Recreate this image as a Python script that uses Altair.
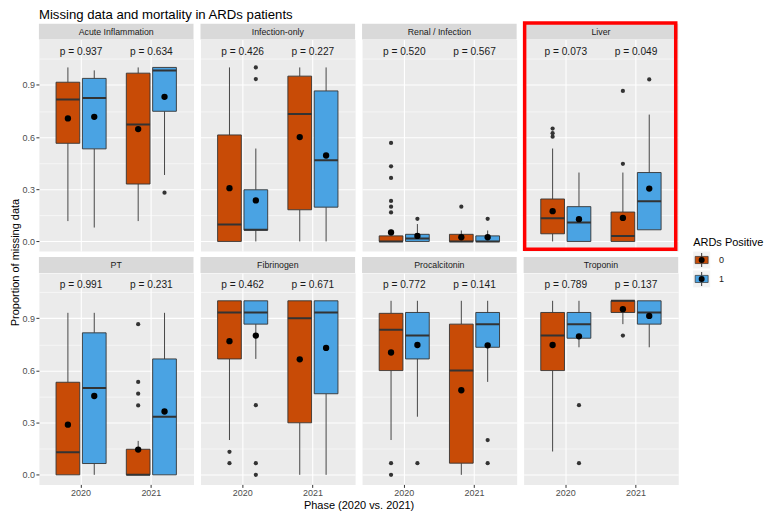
import altair as alt
import pandas as pd

TITLE = "Missing data and mortality in ARDs patients"
Y_TITLE = "Proportion of missing data"
X_TITLE = "Phase (2020 vs. 2021)"
LEGEND_TITLE = "ARDs Positive"

PANELS = ["Acute Inflammation", "Infection-only", "Renal / Infection", "Liver",
          "PT", "Fibrinogen", "Procalcitonin", "Troponin"]
HIGHLIGHT = "Liver"
PHASES = ["2020", "2021"]
ARDS_LEVELS = ["0", "1"]
GROUP_PHASE = ["2020", "2020", "2021", "2021"]
GROUP_ARDS = ["0", "1", "0", "1"]
Y_TICKS = [0.0, 0.15, 0.3, 0.45, 0.6, 0.75, 0.9, 1.05]

WHISKER_LOW = {
    "Acute Inflammation": [0.117, 0.08, 0.117, 0.382],
    "Infection-only": [0.0, 0.0, 0.0, 0.0],
    "Renal / Infection": [0.0, 0.0, 0.0, 0.0],
    "Liver": [0.0, 0.0, 0.0, 0.067],
    "PT": [0.0, 0.0, 0.0, 0.0],
    "Fibrinogen": [0.2, 0.666, 0.0, 0.0],
    "Procalcitonin": [0.2, 0.334, 0.0, 0.534],
    "Troponin": [0.134, 0.733, 0.866, 0.733],
}
Q1 = {
    "Acute Inflammation": [0.564, 0.532, 0.33, 0.748],
    "Infection-only": [0.0, 0.065, 0.182, 0.197],
    "Renal / Infection": [0.0, 0.0, 0.0, 0.0],
    "Liver": [0.044, 0.0, 0.0, 0.067],
    "PT": [0.0, 0.065, 0.0, 0.0],
    "Fibrinogen": [0.666, 0.866, 0.299, 0.466],
    "Procalcitonin": [0.599, 0.666, 0.067, 0.733],
    "Troponin": [0.599, 0.785, 0.933, 0.866],
}
MEDIAN = {
    "Acute Inflammation": [0.815, 0.824, 0.672, 0.983],
    "Infection-only": [0.098, 0.067, 0.733, 0.466],
    "Renal / Infection": [0.0, 0.017, 0.0, 0.0],
    "Liver": [0.133, 0.109, 0.031, 0.231],
    "PT": [0.13, 0.499, 0.0, 0.334],
    "Fibrinogen": [0.933, 0.933, 0.9, 0.933],
    "Procalcitonin": [0.833, 0.8, 0.599, 0.866],
    "Troponin": [0.8, 0.866, 1.0, 0.933],
}
Q3 = {
    "Acute Inflammation": [0.915, 0.937, 0.967, 1.0],
    "Infection-only": [0.612, 0.297, 0.95, 0.865],
    "Renal / Infection": [0.032, 0.041, 0.041, 0.032],
    "Liver": [0.244, 0.2, 0.169, 0.396],
    "PT": [0.532, 0.816, 0.147, 0.666],
    "Fibrinogen": [1.0, 1.0, 1.0, 1.0],
    "Procalcitonin": [0.928, 0.933, 0.866, 0.933],
    "Troponin": [0.933, 0.933, 1.0, 1.0],
}
WHISKER_HIGH = {
    "Acute Inflammation": [1.0, 0.983, 1.0, 1.0],
    "Infection-only": [1.0, 0.534, 1.0, 1.0],
    "Renal / Infection": [0.067, 0.1, 0.063, 0.063],
    "Liver": [0.534, 0.396, 0.396, 0.729],
    "PT": [0.931, 0.931, 0.195, 0.931],
    "Fibrinogen": [1.0, 1.0, 1.0, 1.0],
    "Procalcitonin": [1.0, 1.0, 1.0, 1.0],
    "Troponin": [1.0, 1.0, 1.0, 1.0],
}
MEAN = {
    "Acute Inflammation": [0.707, 0.716, 0.646, 0.831],
    "Infection-only": [0.306, 0.236, 0.6, 0.494],
    "Renal / Infection": [0.052, 0.032, 0.024, 0.024],
    "Liver": [0.174, 0.128, 0.135, 0.304],
    "PT": [0.288, 0.453, 0.145, 0.364],
    "Fibrinogen": [0.768, 0.8, 0.664, 0.729],
    "Procalcitonin": [0.703, 0.746, 0.486, 0.744],
    "Troponin": [0.746, 0.796, 0.952, 0.913],
}
OUTLIERS = {
    "Acute Inflammation": [("2021", "1", 0.28)],
    "Infection-only": [("2020", "1", 1.0), ("2020", "1", 0.933)],
    "Renal / Infection": [("2020", "0", 0.566), ("2020", "0", 0.432), ("2020", "0", 0.365),
                          ("2020", "0", 0.233), ("2020", "0", 0.2), ("2020", "0", 0.167),
                          ("2020", "1", 0.13), ("2021", "0", 0.2), ("2021", "1", 0.13)],
    "Liver": [("2020", "0", 0.649), ("2020", "0", 0.622), ("2020", "0", 0.602),
              ("2021", "0", 0.865), ("2021", "0", 0.446), ("2021", "1", 0.931)],
    "PT": [("2021", "0", 0.866), ("2021", "0", 0.534), ("2021", "0", 0.466), ("2021", "0", 0.399)],
    "Fibrinogen": [("2020", "0", 0.132), ("2020", "0", 0.067),
                   ("2020", "1", 0.4), ("2020", "1", 0.067), ("2020", "1", 0.0)],
    "Procalcitonin": [("2020", "0", 0.067), ("2020", "0", 0.0), ("2020", "1", 0.067),
                      ("2021", "1", 0.2), ("2021", "1", 0.067)],
    "Troponin": [("2020", "1", 0.4), ("2020", "1", 0.067), ("2021", "0", 0.8)],
}
P_VALUES = {
    "Acute Inflammation": ["p = 0.937", "p = 0.634"],
    "Infection-only": ["p = 0.426", "p = 0.227"],
    "Renal / Infection": ["p = 0.520", "p = 0.567"],
    "Liver": ["p = 0.073", "p = 0.049"],
    "PT": ["p = 0.991", "p = 0.231"],
    "Fibrinogen": ["p = 0.462", "p = 0.671"],
    "Procalcitonin": ["p = 0.772", "p = 0.141"],
    "Troponin": ["p = 0.789", "p = 0.137"],
}

# styling
FONT = "Liberation Sans"
ORANGE = "#C84B06"
BLUE = "#4AA3E3"
DARK = "#333333"
PANEL_BG = "#EBEBEB"
STRIP_BG = "#D9D9D9"
W = 155
H = 212
COL_GAP = 7
ROW_GAP = 22
STRIP_H = 16

MAJOR = "abs(round(datum.value * 100)) % 30 === 0"
LABEL_EXPR = "abs(round(datum.value * 100)) % 30 === 0 ? format(datum.value, '.1f') : ''"

color_scale = alt.Scale(domain=ARDS_LEVELS, range=[ORANGE, BLUE])
x_scale = alt.Scale(domain=PHASES, paddingInner=0.25, paddingOuter=0.225)
xo_scale = alt.Scale(domain=ARDS_LEVELS, paddingInner=0.1, paddingOuter=0.05)
y_scale = alt.Scale(domain=[-0.055, 1.16], nice=False, zero=False)


def make_panel(idx, name):
    row, col = divmod(idx, 4)
    show_x = row == 1
    show_y = col == 0

    box_df = pd.DataFrame({
        "phase": GROUP_PHASE, "ards": GROUP_ARDS,
        "lo": WHISKER_LOW[name], "q1": Q1[name], "med": MEDIAN[name],
        "q3": Q3[name], "hi": WHISKER_HIGH[name], "mean": MEAN[name],
    })
    out_df = pd.DataFrame(OUTLIERS[name], columns=["phase", "ards", "value"])
    p_df = pd.DataFrame({"phase": PHASES, "label": P_VALUES[name]})
    strip_df = pd.DataFrame({"label": [name]})

    x_kw = dict(labels=show_x, ticks=show_x, domain=False, grid=True,
                gridColor="white", gridWidth=1.1, labelAngle=0, title=None)
    if row == 1 and col == 0:
        x_kw["title"] = X_TITLE
        x_kw["titleX"] = (4 * W + 3 * COL_GAP) / 2
    x_axis = alt.Axis(**x_kw)

    y_kw = dict(values=Y_TICKS, grid=True, gridColor="white",
                gridWidth={"condition": {"test": MAJOR, "value": 1.1}, "value": 0.55},
                labels=show_y, labelExpr=LABEL_EXPR, ticks=show_y,
                tickOpacity={"condition": {"test": MAJOR, "value": 1}, "value": 0},
                domain=False, title=None)
    if idx == 0:
        y_kw["title"] = Y_TITLE
        y_kw["titleY"] = (2 * H + ROW_GAP) / 2
    y_axis = alt.Axis(**y_kw)

    X = alt.X("phase:N", scale=x_scale, axis=x_axis)
    XO = alt.XOffset("ards:N", scale=xo_scale)

    def Y(field):
        return alt.Y(field, scale=y_scale, axis=y_axis)

    base = alt.Chart(box_df)
    whisk_lo = base.mark_rule(color=DARK, strokeWidth=0.9).encode(
        x=X, xOffset=XO, y=Y("lo:Q"), y2="q1:Q")
    whisk_hi = base.mark_rule(color=DARK, strokeWidth=0.9).encode(
        x=X, xOffset=XO, y=Y("q3:Q"), y2="hi:Q")
    box = base.mark_bar(stroke=DARK, strokeWidth=0.9).encode(
        x=X, xOffset=XO, y=Y("q1:Q"), y2="q3:Q",
        fill=alt.Fill("ards:N", scale=color_scale, legend=None))
    median = base.mark_bar(stroke=DARK, strokeWidth=2, fillOpacity=0).encode(
        x=X, xOffset=XO, y=Y("med:Q"), y2="med:Q")
    outl = alt.Chart(out_df).mark_circle(size=18, color=DARK, opacity=1).encode(
        x=X, xOffset=XO, y=Y("value:Q"))
    means = base.mark_circle(size=40, color="black", opacity=1).encode(
        x=X, xOffset=XO, y=Y("mean:Q"))
    ptext = alt.Chart(p_df).mark_text(fontSize=10.2, color="#1A1A1A", baseline="middle").encode(
        x=X, y=alt.value(12), text="label:N")
    strip = alt.Chart(strip_df).mark_rect(color=STRIP_BG).encode(
        x=alt.value(0), x2=alt.value(W), y=alt.value(-STRIP_H), y2=alt.value(0))
    strip_text = alt.Chart(strip_df).mark_text(fontSize=8.8, color="#1A1A1A", baseline="middle").encode(
        x=alt.value(W / 2), y=alt.value(-STRIP_H / 2), text="label:N")

    layers = [whisk_lo, whisk_hi, box, median, outl, means, ptext, strip, strip_text]
    if idx == 0:
        title_mark = alt.Chart(pd.DataFrame({"t": [TITLE]})).mark_text(
            align="left", baseline="alphabetic", fontSize=13.2, color="#000000").encode(
            x=alt.value(0), y=alt.value(-STRIP_H - 4.5), text="t:N")
        layers.append(title_mark)
    if name == HIGHLIGHT:
        border = alt.Chart(strip_df).mark_rect(fillOpacity=0, stroke="#FF0000", strokeWidth=3.5).encode(
            x=alt.value(1), x2=alt.value(W - 2.5),
            y=alt.value(-STRIP_H - 0.7), y2=alt.value(H - 1.7))
        layers.append(border)

    return alt.layer(*layers).properties(
        width=W, height=H,
        view=alt.ViewBackground(fill=PANEL_BG, stroke="transparent"))


panels = [make_panel(i, n) for i, n in enumerate(PANELS)]

# legend, drawn as its own small chart in a fifth column
center = (2 * H + ROW_GAP) / 2
KX = 8  # key left edge inside the legend column
leg_df = pd.DataFrame({"ards": ARDS_LEVELS})
leg_y = alt.Y("ards:N", axis=None,
              scale=alt.Scale(type="point", domain=ARDS_LEVELS,
                              range=[center - 2, center + 17], padding=0))
leg_base = alt.Chart(leg_df)
key_bg = leg_base.mark_square(size=289, color="#F2F2F2", opacity=1).encode(
    x=alt.value(KX + 8.5), y=leg_y)
key_whisk = leg_base.mark_tick(orient="vertical", size=14, thickness=1, color=DARK, opacity=1).encode(
    x=alt.value(KX + 8.5), y=leg_y)
key_box = leg_base.mark_point(shape="M-1,-0.55H1V0.55H-1Z", size=169, filled=True, opacity=1,
                              stroke=DARK, strokeWidth=0.7).encode(
    x=alt.value(KX + 8.5), y=leg_y, fill=alt.Fill("ards:N", scale=color_scale, legend=None))
key_dot = leg_base.mark_circle(size=36, color="black", opacity=1).encode(
    x=alt.value(KX + 8.5), y=leg_y)
key_lab = leg_base.mark_text(align="left", baseline="middle", fontSize=9, color="#1A1A1A").encode(
    x=alt.value(KX + 26), y=leg_y, text="ards:N")
leg_title = alt.Chart(pd.DataFrame({"t": [LEGEND_TITLE]})).mark_text(
    align="left", baseline="middle", fontSize=11, color="#000000").encode(
    x=alt.value(KX), y=alt.value(center - 19), text="t:N")
legend = alt.layer(key_bg, key_whisk, key_box, key_dot, key_lab, leg_title).properties(
    width=70, height=H)

cells = panels[:4] + [legend] + panels[4:]
chart = alt.concat(*cells, columns=5, spacing=alt.RowColnumber(row=ROW_GAP, column=COL_GAP),
                   bounds="flush").properties(
    padding={"left": 0, "top": -1, "right": 0, "bottom": 0},
).configure(font=FONT).configure_view(stroke="transparent").configure_axis(
    labelFontSize=9, labelColor="#4D4D4D", tickColor=DARK, tickSize=3, labelPadding=1.5,
    titleFontSize=11, titleFontWeight="normal", titleColor="#000000", titlePadding=1.5,
)

chart.save("out.html", embed_options={"renderer": "svg", "actions": False})
